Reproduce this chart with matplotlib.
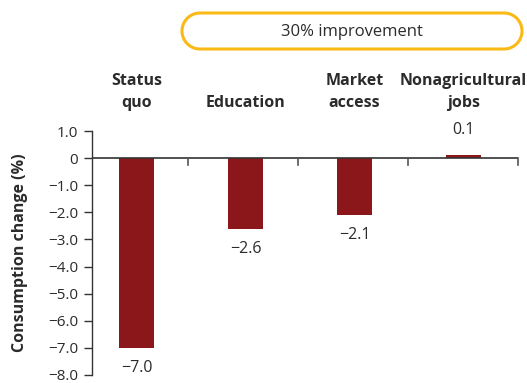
import matplotlib
matplotlib.use("Agg")
import matplotlib.pyplot as plt
import numpy as np
from matplotlib.patches import Polygon

categories = ["Status\nquo", "Education", "Market\naccess", "Nonagricultural\njobs"]
values = [-7.0, -2.6, -2.1, 0.1]
value_labels = ["\u22127.0", "\u22122.6", "\u22122.1", "0.1"]
yticks = [1, 0, -1, -2, -3, -4, -5, -6, -7, -8]
ytick_labels = ["1.0", "0", "\u22121.0", "\u22122.0", "\u22123.0", "\u22124.0",
                "\u22125.0", "\u22126.0", "\u22127.0", "\u22128.0"]
banner_text = "30% improvement"

BAR = "#8B171B"
TXT = "#2b2b2b"
GOLD = "#FBB916"
FONT = ["Open Sans", "DejaVu Sans"]

plt.rcParams["font.family"] = FONT

W, H = 527, 383
fig = plt.figure(figsize=(W / 100, H / 100), dpi=100)
ax = fig.add_axes([92 / W, 1 - 375 / H, (518 - 92) / W, (375 - 131) / H])

x = list(range(len(values)))
ax.bar(x, values, width=0.32, color=BAR, zorder=2)

ax.set_xlim(-0.41, 3.5)
ax.set_ylim(-8, 1)
ax.set_yticks(yticks)
ax.set_yticklabels(ytick_labels, fontsize=11, color=TXT)
ax.tick_params(axis="y", direction="out", length=6, width=1, color="#333333", pad=4)
ax.set_xticks([])

for s in ["top", "right", "bottom"]:
    ax.spines[s].set_visible(False)
ax.spines["left"].set_color("#333333")
ax.spines["left"].set_linewidth(1)

# zero baseline with downward separator ticks
ax.axhline(0, color="#333333", lw=1.2, zorder=3)
for b in [0.47, 1.48, 2.49, 3.5]:
    ax.plot([b, b], [0, -0.26], color="#555555", lw=1.2, zorder=3, clip_on=False)

# value labels
for xi, v, lab in zip(x, values, value_labels):
    if v < 0:
        ax.text(xi, v - 0.45, lab, ha="center", va="top", fontsize=11.5, color=TXT)
    else:
        ax.text(xi, v + 0.65, lab, ha="center", va="bottom", fontsize=11.5, color=TXT)

# category headers above the plot
for xi, c in zip(x, categories):
    ax.annotate(c, xy=(xi, 1.0), xycoords=("data", "axes fraction"),
                xytext=(0, 20), textcoords="offset pixels",
                ha="center", va="bottom", fontsize=11.5, fontweight="bold",
                color=TXT, linespacing=1.5)

fig.text(20 / W, 1 - 253 / H, "Consumption change (%)", rotation=90,
         ha="center", va="center", fontsize=11.5, fontweight="bold", color=TXT)

# pill-shaped banner over the improvement scenarios, drawn in pixel units
ov = fig.add_axes([0, 0, 1, 1], facecolor="none")
ov.set_xlim(0, W)
ov.set_ylim(0, H)
ov.axis("off")
bx0, bx1, top, bottom = 182, 522, 13, 49
rad = (bottom - top) / 2
yc = H - (top + bottom) / 2
t = np.linspace(-np.pi / 2, np.pi / 2, 60)
right = np.column_stack([bx1 - rad + rad * np.cos(t), yc + rad * np.sin(t)])
left = np.column_stack([bx0 + rad - rad * np.cos(t), yc - rad * np.sin(t)])
ov.add_patch(Polygon(np.vstack([right, left]), closed=True, facecolor="white",
                     edgecolor=GOLD, linewidth=2.2, joinstyle="round"))
ov.text((bx0 + bx1) / 2, yc - 1, banner_text,
        ha="center", va="center", fontsize=12, color=TXT)

fig.savefig("out.png", dpi=100)
